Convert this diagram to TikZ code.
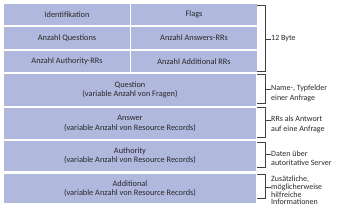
\documentclass[tikz,border=0pt]{standalone}
\usepackage{fontspec}
\setmainfont{Carlito}
\definecolor{boxblue}{RGB}{176,184,222}
\definecolor{txt}{RGB}{40,40,40}
\begin{document}
\begin{tikzpicture}[x=1pt,y=-1pt,
  box/.style={fill=boxblue,inner sep=0pt,align=center,text=txt,font=\fontsize{8.3}{9.2}\selectfont},
  small/.style={box,minimum width=126pt,minimum height=21.5pt},
  wide/.style={box,minimum width=252pt},
  lab/.style={anchor=west,inner sep=0pt,align=left,text=txt,font=\fontsize{8}{9.3}\selectfont},
  brk/.style={draw=black!75,line width=0.7pt}]
\useasboundingbox (0,0) rectangle (350,209);
% header rows
\node[small] (id)  at (67,14.5)  {Identifikation};
\node[small] (fl)  at (194,14.5) {Flags};
\node[small] (aq)  at (67,38)    {Anzahl Questions};
\node[small] (aa)  at (194,38)   {Anzahl Answers-RRs};
\node[small] (aau) at (67,61.5)  {Anzahl Authority-RRs};
\node[small] (aad) at (194,61.5) {Anzahl Additional RRs};
% wide rows
\node[wide,minimum height=32pt] (q)   at (130,90)    {Question\\(variable Anzahl von Fragen)};
\node[wide,minimum height=31pt] (ans) at (130,123.5) {Answer\\(variable Anzahl von Resource Records)};
\node[wide,minimum height=30pt] (aut) at (130,156)   {Authority\\(variable Anzahl von Resource Records)};
\node[wide,minimum height=29pt] (add) at (130,188.5) {Additional\\(variable Anzahl von Resource Records)};
% brackets
\draw[brk] (257,5) -- (265,5) -- (265,71) -- (257,71);
\draw[brk] (257,74) -- (265,74) -- (265,103) -- (257,103);
\draw[brk] (257,107) -- (265,107) -- (265,137) -- (257,137);
\draw[brk] (257,142) -- (265,142) -- (265,167) -- (257,167);
\draw[brk] (257,174) -- (265,174) -- (265,198) -- (257,198);
% labels
\node[lab] (l1) at (271,39) {12 Byte};
\node[lab] (l2) at (271,93.5) {Name-, Typfelder\\einer Anfrage};
\node[lab] (l3) at (271,124.5) {RRs als Antwort\\auf eine Anfrage};
\node[lab] (l4) at (271,158) {Daten über\\autoritative Server};
\node[lab,font=\fontsize{8}{7.8}\selectfont] (l5) at (271,190.5) {Zusätzliche,\\möglicherweise\\hilfreiche\\Informationen};
\draw[brk] (265,39) -- (l1.west);
\draw[brk] (265,89) -- (271,89);
\draw[brk] (265,120) -- (271,120);
\draw[brk] (265,154) -- (271,154);
\draw[brk] (265,187) -- (271,187);
\end{tikzpicture}
\end{document}
